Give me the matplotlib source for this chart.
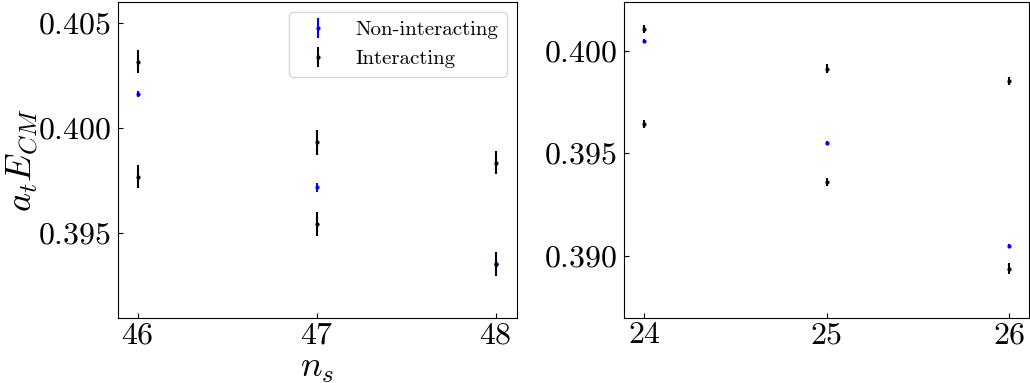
import matplotlib
matplotlib.use('Agg')
import matplotlib.pyplot as plt

plt.rcParams['font.family'] = 'serif'
plt.rcParams['font.serif'] = ['cmr10']
plt.rcParams['mathtext.fontset'] = 'cm'
plt.rcParams['axes.formatter.use_mathtext'] = True

# left panel: n_s = 46..48
ns_left = [46, 47, 48]
nonint_left = [0.4016, 0.39718, 0.39355]
nonint_left_err = [0.00015, 0.0002, 0.0002]
int_left_x = [46, 46, 47, 47, 48, 48]
int_left = [0.40315, 0.39769, 0.39932, 0.39544, 0.39835, 0.39354]
int_left_err = [0.00055, 0.00055, 0.00059, 0.00055, 0.00055, 0.00058]

# right panel: n_s = 24..26
ns_right = [24, 25, 26]
nonint_right = [0.40051, 0.39549, 0.39047]
nonint_right_err = [0.0001, 0.0001, 0.0001]
int_right_x = [24, 24, 25, 25, 26, 26]
int_right = [0.40108, 0.39645, 0.39914, 0.3936, 0.39855, 0.38936]
int_right_err = [0.0002, 0.0002, 0.0002, 0.0002, 0.0002, 0.00025]

fig = plt.figure(figsize=(10.3, 3.83), dpi=100)
ax1 = fig.add_axes([0.1146, 0.170, 0.3874, 0.825])
ax2 = fig.add_axes([0.606, 0.170, 0.393, 0.825])

ax1.errorbar(ns_left, nonint_left, yerr=nonint_left_err, fmt='.', color='blue',
             markersize=4, elinewidth=1.5, label='Non-interacting')
ax1.errorbar(int_left_x, int_left, yerr=int_left_err, fmt='.', color='black',
             markersize=4, elinewidth=1.5, label='Interacting')
ax2.errorbar(ns_right, nonint_right, yerr=nonint_right_err, fmt='.', color='blue',
             markersize=4, elinewidth=1.5)
ax2.errorbar(int_right_x, int_right, yerr=int_right_err, fmt='.', color='black',
             markersize=4, elinewidth=1.5)

ax1.set_xlim(45.89, 48.12)
ax1.set_ylim(0.39098, 0.40598)
ax1.set_xticks(ns_left)
ax1.set_yticks([0.395, 0.400, 0.405])
ax1.set_xlabel(r'$n_s$', fontsize=26)
ax1.set_ylabel(r'$a_t E_{CM}$', fontsize=26)
ax1.xaxis.set_label_coords(0.5, -0.162)
ax1.xaxis.label.set_va('center')
ax1.yaxis.set_label_coords(-0.238, 0.5)
ax1.yaxis.label.set_va('center')
ax1.legend(loc='upper right', fontsize=15)

ax2.set_xlim(23.89, 26.11)
ax2.set_ylim(0.38695, 0.4024)
ax2.set_xticks(ns_right)
ax2.set_yticks([0.390, 0.395, 0.400])

for ax in (ax1, ax2):
    ax.tick_params(direction='in', labelsize=23)
    ax.tick_params(axis='x', pad=3)
    ax.tick_params(axis='y', pad=5)

fig.savefig('out.png', dpi=100)
